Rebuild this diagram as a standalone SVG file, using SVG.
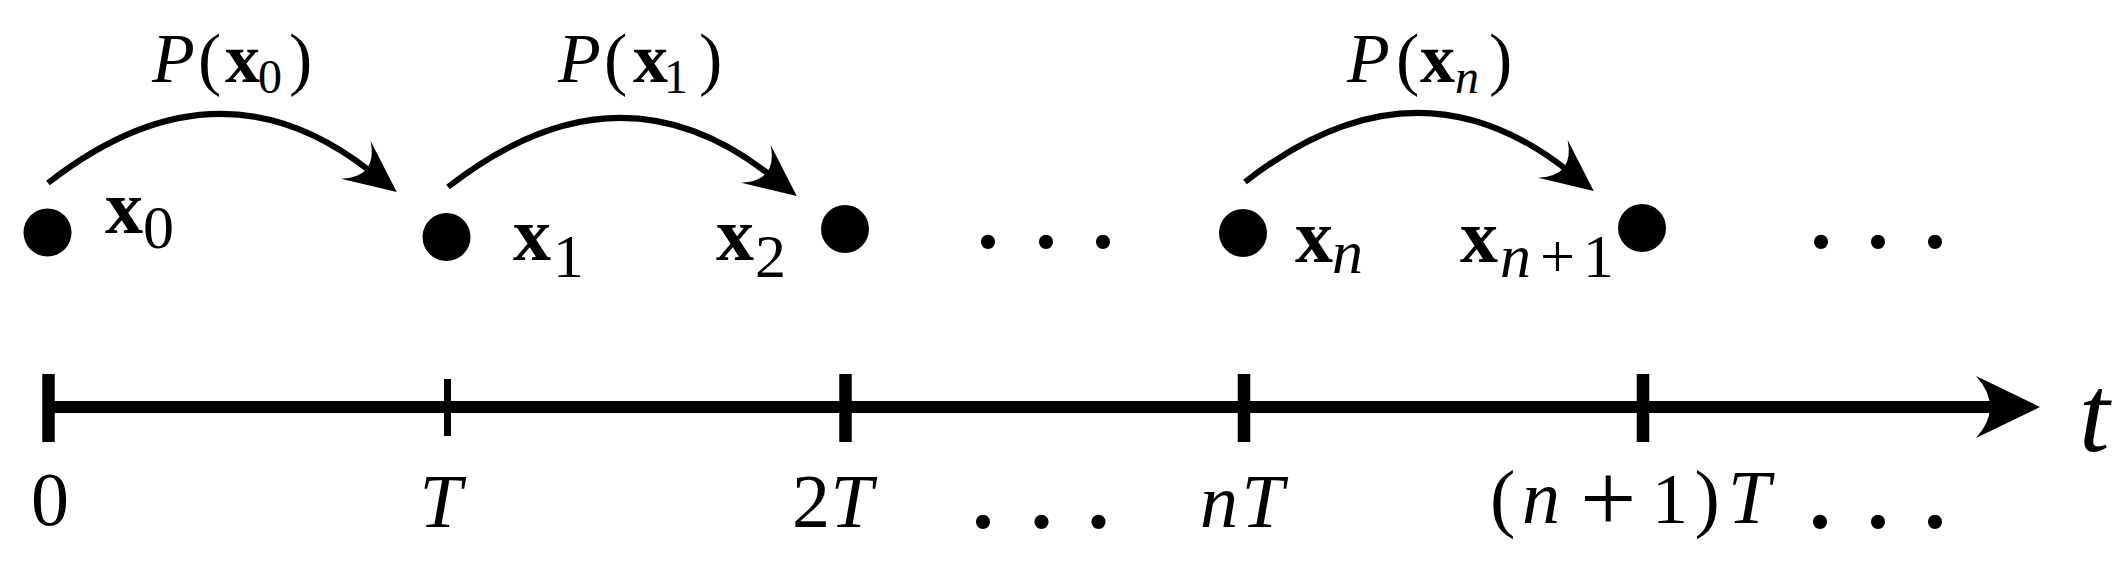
<svg xmlns="http://www.w3.org/2000/svg" width="2125" height="564" viewBox="0 0 2125 564">
<style>
text{font-family:"Liberation Serif","DejaVu Serif",serif;fill:#000}
.it{font-style:italic}
.bf{font-weight:bold}
.lab{font-size:76px}
.sub{font-size:62px}
.pl{font-size:70px}
.psub{font-size:48px}
.dot{fill:#000}
.arc{fill:none;stroke:#000;stroke-width:6}
.tick{stroke:#000}
.dots{font-size:120px}
</style>
<defs>
<marker id="ah" markerUnits="userSpaceOnUse" viewBox="-60 -30 70 60" markerWidth="70" markerHeight="60" refX="-34" refY="0" orient="auto" overflow="visible">
<path d="M0,0 L-52,-24 Q-24,0 -52,24 Z" fill="#000"/>
</marker>
<marker id="axh" markerUnits="userSpaceOnUse" viewBox="-70 -35 80 70" markerWidth="80" markerHeight="70" refX="-42" refY="0" orient="auto" overflow="visible">
<path d="M0,0 L-64,-31 Q-36,0 -64,31 Z" fill="#000"/>
</marker>
</defs>
<rect width="2125" height="564" fill="#fff"/>

<g id="connectors">
<path class="arc" d="M48,183 Q217,51 370,171" marker-end="url(#ah)"/>
<path class="arc" d="M448,187 Q617,55 770,175" marker-end="url(#ah)"/>
<path class="arc" d="M1245,182 Q1414,50 1567,170" marker-end="url(#ah)"/>
<text class="pl"><tspan class="it" x="152" y="82">P</tspan><tspan x="198" y="82">(</tspan><tspan class="bf" x="225" y="82">x</tspan><tspan class="psub" x="258" y="93">0</tspan><tspan x="289" y="82">)</tspan></text>
<text class="pl"><tspan class="it" x="558" y="82">P</tspan><tspan x="604" y="82">(</tspan><tspan class="bf" x="633" y="82">x</tspan><tspan class="psub" x="664" y="93">1</tspan><tspan x="699" y="82">)</tspan></text>
<text class="pl"><tspan class="it" x="1347" y="82">P</tspan><tspan x="1396" y="82">(</tspan><tspan class="bf" x="1420" y="82">x</tspan><tspan class="it psub" x="1455" y="93">n</tspan><tspan x="1489" y="82">)</tspan></text>
</g>

<g id="node-x0">
<circle class="dot" cx="47.5" cy="232.5" r="24"/>
<text class="lab"><tspan class="bf" x="105" y="233">x</tspan><tspan class="sub" x="143" y="248">0</tspan></text>
</g>
<g id="node-x1">
<circle class="dot" cx="446.5" cy="237" r="24"/>
<text class="lab"><tspan class="bf" x="513" y="260">x</tspan><tspan class="sub" x="553" y="277">1</tspan></text>
</g>
<g id="node-x2">
<circle class="dot" cx="845" cy="229" r="24"/>
<text class="lab"><tspan class="bf" x="716" y="260">x</tspan><tspan class="sub" x="755" y="277">2</tspan></text>
</g>
<g id="dots-top-1">
<text class="dots" text-anchor="middle"><tspan x="988" y="247">.</tspan><tspan x="1046" y="247">.</tspan><tspan x="1103" y="247">.</tspan></text>
</g>
<g id="node-xn">
<circle class="dot" cx="1243" cy="233" r="24"/>
<text class="lab"><tspan class="bf" x="1295" y="262">x</tspan><tspan class="sub it" x="1332" y="273">n</tspan></text>
</g>
<g id="node-xn1">
<circle class="dot" cx="1642" cy="228" r="24"/>
<text class="lab"><tspan class="bf" x="1460" y="262">x</tspan><tspan class="sub it" x="1500" y="277">n</tspan><tspan class="sub" x="1540" y="277">+</tspan><tspan class="sub" x="1583" y="277">1</tspan></text>
</g>
<g id="dots-top-2">
<text class="dots" text-anchor="middle"><tspan x="1821" y="247">.</tspan><tspan x="1878" y="247">.</tspan><tspan x="1935" y="247">.</tspan></text>
</g>

<g id="axis">
<line x1="48" y1="407" x2="1998" y2="407" stroke="#000" stroke-width="12" marker-end="url(#axh)"/>
<line class="tick" x1="48.5" y1="374" x2="48.5" y2="442" stroke-width="12.5"/>
<line class="tick" x1="447.5" y1="379" x2="447.5" y2="436" stroke-width="7"/>
<line class="tick" x1="845.5" y1="374" x2="845.5" y2="442" stroke-width="12.5"/>
<line class="tick" x1="1244" y1="374" x2="1244" y2="442" stroke-width="12.5"/>
<line class="tick" x1="1643" y1="374" x2="1643" y2="442" stroke-width="12.5"/>
<text class="it" x="2079" y="451" font-size="110">t</text>
<text class="lab" x="50" y="525" text-anchor="middle">0</text>
<text class="lab it" x="419.5" y="527">T</text>
<text class="lab"><tspan x="792" y="527">2</tspan><tspan class="it" x="830.5" y="527">T</tspan></text>
<text class="dots" text-anchor="middle"><tspan x="983" y="527">.</tspan><tspan x="1041.5" y="527">.</tspan><tspan x="1098.5" y="527">.</tspan></text>
<text class="lab it"><tspan x="1200" y="527">n</tspan><tspan x="1241.5" y="527">T</tspan></text>
<text class="lab"><tspan x="1490" y="523">(</tspan><tspan class="it" x="1522" y="523">n</tspan><tspan x="1580" y="532" font-size="100">+</tspan><tspan x="1652" y="523" font-size="72">1</tspan><tspan x="1694.5" y="523">)</tspan><tspan class="it" x="1728" y="523">T</tspan></text>
<text class="dots" text-anchor="middle"><tspan x="1820" y="527">.</tspan><tspan x="1878" y="527">.</tspan><tspan x="1935" y="527">.</tspan></text>
</g>
</svg>
